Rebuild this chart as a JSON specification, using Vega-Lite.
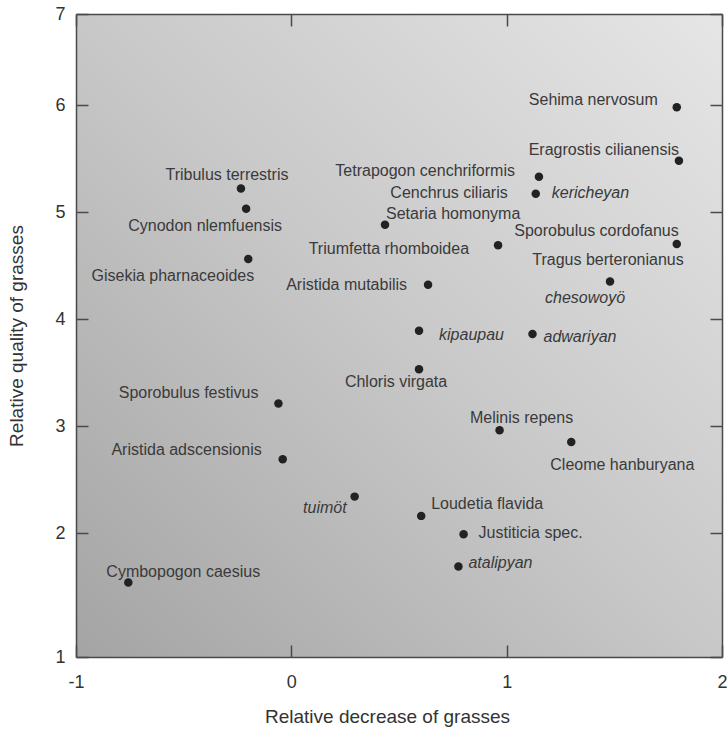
{
  "$schema": "https://vega.github.io/schema/vega-lite/v6.json",
  "width": 646,
  "height": 643,
  "autosize": {"type": "none"},
  "padding": {"left": 76, "top": 14, "right": 6, "bottom": 74},
  "background": "white",
  "config": {
    "view": {"stroke": null},
    "font": "Liberation Sans",
    "text": {"font": "Liberation Sans", "fontSize": 16, "color": "#3a3a3a"},
    "axis": {
      "labelFont": "Liberation Sans",
      "titleFont": "Liberation Sans",
      "labelFontSize": 18,
      "titleFontSize": 19,
      "titleFontWeight": "normal",
      "labelColor": "#333333",
      "titleColor": "#333333",
      "grid": false,
      "domain": true,
      "domainColor": "#4a4a4a",
      "domainWidth": 1.5
    }
  },
  "data": {
    "values": [
      {"species": "Sehima nervosum", "local": null, "x": 1.79, "y": 5.98},
      {"species": "Eragrostis cilianensis", "local": null, "x": 1.80, "y": 5.48},
      {"species": "Tetrapogon cenchriformis", "local": null, "x": 1.15, "y": 5.33},
      {"species": "Cenchrus ciliaris", "local": "kericheyan", "x": 1.135, "y": 5.17},
      {"species": "Tribulus terrestris", "local": null, "x": -0.234, "y": 5.22},
      {"species": "Cynodon nlemfuensis", "local": null, "x": -0.21, "y": 5.03},
      {"species": "Setaria homonyma", "local": null, "x": 0.435, "y": 4.88},
      {"species": "Triumfetta rhomboidea", "local": null, "x": 0.96, "y": 4.69},
      {"species": "Sporobulus cordofanus", "local": null, "x": 1.79, "y": 4.70},
      {"species": "Gisekia pharnaceoides", "local": null, "x": -0.20, "y": 4.56},
      {"species": "Tragus berteronianus", "local": "chesowoyö", "x": 1.48, "y": 4.35},
      {"species": "Aristida mutabilis", "local": null, "x": 0.635, "y": 4.32},
      {"species": null, "local": "kipaupau", "x": 0.593, "y": 3.89},
      {"species": null, "local": "adwariyan", "x": 1.12, "y": 3.86},
      {"species": "Chloris virgata", "local": null, "x": 0.593, "y": 3.53},
      {"species": "Sporobulus festivus", "local": null, "x": -0.06, "y": 3.21},
      {"species": "Melinis repens", "local": null, "x": 0.967, "y": 2.96},
      {"species": "Cleome hanburyana", "local": null, "x": 1.30, "y": 2.85},
      {"species": "Aristida adscensionis", "local": null, "x": -0.04, "y": 2.69},
      {"species": null, "local": "tuimöt", "x": 0.294, "y": 2.34},
      {"species": "Loudetia flavida", "local": null, "x": 0.603, "y": 2.16},
      {"species": "Justiticia spec.", "local": null, "x": 0.80, "y": 1.99},
      {"species": null, "local": "atalipyan", "x": 0.776, "y": 1.73},
      {"species": "Cymbopogon caesius", "local": null, "x": -0.757, "y": 1.60}
    ]
  },
  "resolve": {"axis": {"x": "independent", "y": "independent"}},
  "layer": [
    {
      "mark": {
        "type": "rect",
        "fill": {
          "gradient": "linear", "x1": 0, "y1": 1, "x2": 1, "y2": 0,
          "stops": [{"offset": 0, "color": "#a4a4a4"}, {"offset": 0.5, "color": "#c8c8c8"}, {"offset": 1, "color": "#e6e6e6"}]
        },
        "stroke": null
      },
      "encoding": {
        "x": {"datum": -1, "type": "quantitative",
              "scale": {"domain": [-1, 2], "nice": false, "zero": false},
              "axis": {"orient": "bottom", "zindex": 1, "values": [-1, 0, 1, 2], "ticks": true, "tickSize": -12, "tickColor": "#4a4a4a", "tickWidth": 1.5, "labelPadding": 28, "labelExpr": "replace(datum.label, '−', '-')", "title": "Relative decrease of grasses", "titlePadding": 16, "titleX": 311, "labelFlush": false}},
        "x2": {"datum": 2},
        "y": {"datum": 1, "type": "quantitative",
              "scale": {"domain": [1, 2, 6, 7], "range": [643, 519, 91, 0], "nice": false, "zero": false},
              "axis": {"orient": "left", "zindex": 1, "values": [1, 2, 3, 4, 5, 6, 7], "ticks": true, "tickSize": -12, "tickColor": "#4a4a4a", "tickWidth": 1.5, "labelPadding": 23, "title": "Relative quality of grasses", "titlePadding": 28, "labelFlush": false}},
        "y2": {"datum": 7}
      }
    },
    {
      "mark": {"type": "circle", "size": 72, "color": "#222222", "opacity": 1},
      "encoding": {
        "x": {"field": "x", "type": "quantitative",
              "scale": {"domain": [-1, 2], "nice": false, "zero": false},
              "axis": {"orient": "top", "zindex": 1, "values": [-1, 0, 1, 2], "ticks": true, "tickSize": -12, "tickColor": "#4a4a4a", "tickWidth": 1.5, "labels": false, "title": null}},
        "y": {"field": "y", "type": "quantitative",
              "scale": {"domain": [1, 2, 6, 7], "range": [643, 519, 91, 0], "nice": false, "zero": false},
              "axis": {"orient": "right", "zindex": 1, "values": [1, 2, 3, 4, 5, 6, 7], "ticks": true, "tickSize": -12, "tickColor": "#4a4a4a", "tickWidth": 1.5, "labels": false, "title": null}}
      }
    },
    {
      "encoding": {
        "x": {"field": "x", "type": "quantitative", "axis": null, "scale": {"domain": [-1, 2], "nice": false, "zero": false}},
        "y": {"field": "y", "type": "quantitative", "axis": null, "scale": {"domain": [1, 2, 6, 7], "range": [643, 519, 91, 0], "nice": false, "zero": false}}
      },
      "layer": [
        {"transform": [{"filter": "datum.species === 'Sehima nervosum'"}], "mark": {"type": "text", "align": "right", "dx": -19, "dy": -7}, "encoding": {"text": {"field": "species"}}},
        {"transform": [{"filter": "datum.species === 'Eragrostis cilianensis'"}], "mark": {"type": "text", "align": "right", "dx": 0, "dy": -11}, "encoding": {"text": {"field": "species"}}},
        {"transform": [{"filter": "datum.species === 'Tetrapogon cenchriformis'"}], "mark": {"type": "text", "align": "right", "dx": -24, "dy": -6}, "encoding": {"text": {"field": "species"}}},
        {"transform": [{"filter": "datum.species === 'Cenchrus ciliaris'"}], "mark": {"type": "text", "align": "right", "dx": -28, "dy": -1}, "encoding": {"text": {"field": "species"}}},
        {"transform": [{"filter": "datum.local === 'kericheyan'"}], "mark": {"type": "text", "align": "left", "dx": 16, "dy": -1, "fontStyle": "italic"}, "encoding": {"text": {"field": "local"}}},
        {"transform": [{"filter": "datum.species === 'Tribulus terrestris'"}], "mark": {"type": "text", "align": "center", "dx": -14, "dy": -13}, "encoding": {"text": {"field": "species"}}},
        {"transform": [{"filter": "datum.species === 'Cynodon nlemfuensis'"}], "mark": {"type": "text", "align": "center", "dx": -41, "dy": 17}, "encoding": {"text": {"field": "species"}}},
        {"transform": [{"filter": "datum.species === 'Setaria homonyma'"}], "mark": {"type": "text", "align": "left", "dx": 1, "dy": -11}, "encoding": {"text": {"field": "species"}}},
        {"transform": [{"filter": "datum.species === 'Triumfetta rhomboidea'"}], "mark": {"type": "text", "align": "right", "dx": -29, "dy": 4}, "encoding": {"text": {"field": "species"}}},
        {"transform": [{"filter": "datum.species === 'Sporobulus cordofanus'"}], "mark": {"type": "text", "align": "right", "dx": 2, "dy": -13}, "encoding": {"text": {"field": "species"}}},
        {"transform": [{"filter": "datum.species === 'Gisekia pharnaceoides'"}], "mark": {"type": "text", "align": "right", "dx": 6, "dy": 17}, "encoding": {"text": {"field": "species"}}},
        {"transform": [{"filter": "datum.species === 'Tragus berteronianus'"}], "mark": {"type": "text", "align": "center", "dx": -2, "dy": -22}, "encoding": {"text": {"field": "species"}}},
        {"transform": [{"filter": "datum.local === 'chesowoyö'"}], "mark": {"type": "text", "align": "center", "dx": -25, "dy": 16, "fontStyle": "italic"}, "encoding": {"text": {"field": "local"}}},
        {"transform": [{"filter": "datum.species === 'Aristida mutabilis'"}], "mark": {"type": "text", "align": "right", "dx": -21, "dy": 0}, "encoding": {"text": {"field": "species"}}},
        {"transform": [{"filter": "datum.local === 'kipaupau'"}], "mark": {"type": "text", "align": "left", "dx": 20, "dy": 4, "fontStyle": "italic"}, "encoding": {"text": {"field": "local"}}},
        {"transform": [{"filter": "datum.local === 'adwariyan'"}], "mark": {"type": "text", "align": "left", "dx": 11, "dy": 3, "fontStyle": "italic"}, "encoding": {"text": {"field": "local"}}},
        {"transform": [{"filter": "datum.species === 'Chloris virgata'"}], "mark": {"type": "text", "align": "center", "dx": -23, "dy": 13}, "encoding": {"text": {"field": "species"}}},
        {"transform": [{"filter": "datum.species === 'Sporobulus festivus'"}], "mark": {"type": "text", "align": "right", "dx": -20, "dy": -11}, "encoding": {"text": {"field": "species"}}},
        {"transform": [{"filter": "datum.species === 'Melinis repens'"}], "mark": {"type": "text", "align": "center", "dx": 22, "dy": -12}, "encoding": {"text": {"field": "species"}}},
        {"transform": [{"filter": "datum.species === 'Cleome hanburyana'"}], "mark": {"type": "text", "align": "left", "dx": -21, "dy": 23}, "encoding": {"text": {"field": "species"}}},
        {"transform": [{"filter": "datum.species === 'Aristida adscensionis'"}], "mark": {"type": "text", "align": "right", "dx": -21, "dy": -9}, "encoding": {"text": {"field": "species"}}},
        {"transform": [{"filter": "datum.local === 'tuimöt'"}], "mark": {"type": "text", "align": "right", "dx": -8, "dy": 11, "fontStyle": "italic"}, "encoding": {"text": {"field": "local"}}},
        {"transform": [{"filter": "datum.species === 'Loudetia flavida'"}], "mark": {"type": "text", "align": "left", "dx": 10, "dy": -12}, "encoding": {"text": {"field": "species"}}},
        {"transform": [{"filter": "datum.species === 'Justiticia spec.'"}], "mark": {"type": "text", "align": "left", "dx": 15, "dy": -1}, "encoding": {"text": {"field": "species"}}},
        {"transform": [{"filter": "datum.local === 'atalipyan'"}], "mark": {"type": "text", "align": "left", "dx": 10, "dy": -3, "fontStyle": "italic"}, "encoding": {"text": {"field": "local"}}},
        {"transform": [{"filter": "datum.species === 'Cymbopogon caesius'"}], "mark": {"type": "text", "align": "left", "dx": -22, "dy": -11}, "encoding": {"text": {"field": "species"}}}
      ]
    }
  ]
}
